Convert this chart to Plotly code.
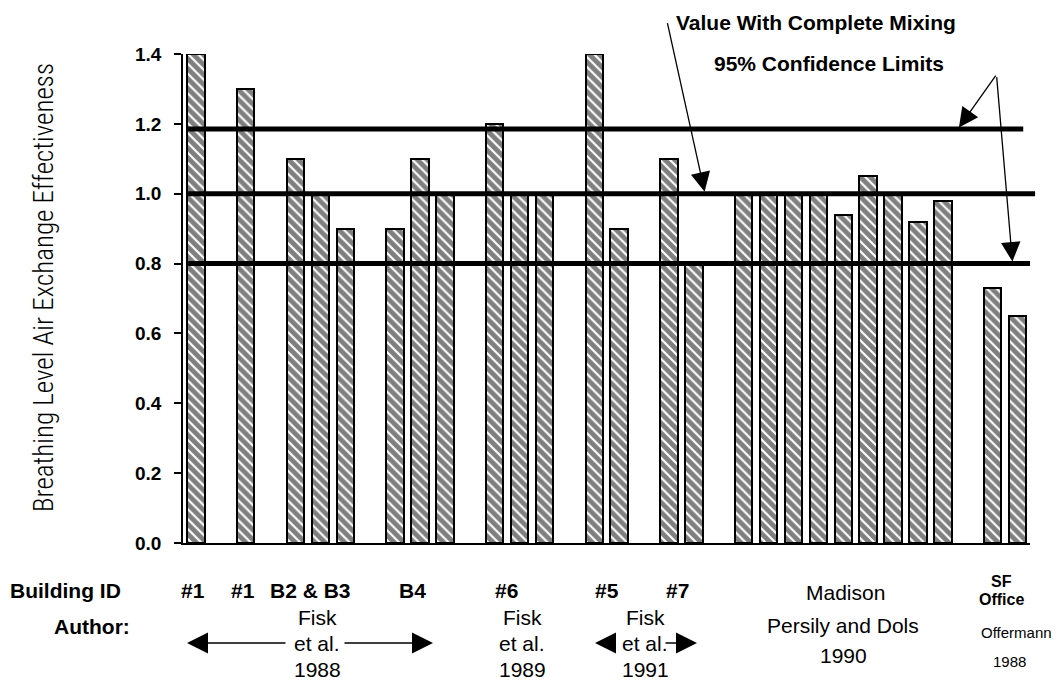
import plotly.graph_objects as go

# ---- data -------------------------------------------------------------
building_ids = ["#1", "#1", "B2 & B3", "B4", "#6", "#5", "#7", "Madison", "SF<br>Office"]
group_values = [
    [1.40],
    [1.30],
    [1.10, 1.00, 0.90],
    [0.90, 1.10, 1.00],
    [1.20, 1.00, 1.00],
    [1.40, 0.90],
    [1.10, 0.80],
    [1.00, 1.00, 1.00, 1.00, 0.94, 1.05, 1.00, 0.92, 0.98],
    [0.73, 0.65],
]
authors = [
    ["Fisk", "et al.", "1988"],
    ["Fisk", "et al.", "1989"],
    ["Fisk", "et al.", "1991"],
    ["Persily and Dols", "1990"],
    ["Offermann", "1988"],
]
complete_mixing = 1.0
confidence_limits = [0.80, 1.185]
y_ticks = [0.0, 0.2, 0.4, 0.6, 0.8, 1.0, 1.2, 1.4]
y_title = "Breathing Level Air Exchange Effectiveness"

# ---- bar slots: groups separated by one empty slot --------------------
bar_x, bar_y = [], []
slot = 0
for vals in group_values:
    for v in vals:
        bar_x.append(slot)
        bar_y.append(v)
        slot += 1
    slot += 1

# ---- figure geometry (pixels) ----------------------------------------
W, H = 1064, 689
L, R, T, B = 183, 1030, 54, 543


def px(xp):
    return (xp - L) / (R - L)


def py(yp):
    return (B - yp) / (B - T)


SANS = "Liberation Sans, Arial, Helvetica, sans-serif"

fig = go.Figure()
fig.add_trace(go.Bar(
    x=bar_x, y=bar_y, width=0.7,
    marker=dict(
        color="white",
        line=dict(color="black", width=2),
        pattern=dict(shape="\\", size=7, solidity=0.7, fgcolor="black",
                     fillmode="overlay"),
    ),
    hoverinfo="y", showlegend=False,
))

# reference lines: complete mixing and 95% confidence limits
ref_lines = [(confidence_limits[1], 0.006, 0.992),
             (complete_mixing, 0.006, 1.006),
             (confidence_limits[0], 0.006, 1.0)]
for yv, x0, x1 in ref_lines:
    fig.add_shape(type="line", xref="paper", yref="y", x0=x0, x1=x1,
                  y0=yv, y1=yv, line=dict(color="black", width=5), layer="above")

ann = []


def text(s, xp, yp, size, bold=False, xanchor="center"):
    ann.append(dict(
        text=s, xref="paper", yref="paper", x=px(xp), y=py(yp),
        xanchor=xanchor, yanchor="middle", showarrow=False,
        font=dict(family=SANS, size=size, color="black",
                  weight="bold" if bold else "normal"),
    ))


def arrow_px(tip_x, tip_y, tail_x, tail_y, width=1.5, size=2.8):
    ann.append(dict(
        text="", xref="paper", yref="paper", x=px(tip_x), y=py(tip_y),
        ax=tail_x - tip_x, ay=tail_y - tip_y, showarrow=True,
        arrowhead=2, arrowsize=size, arrowwidth=width, arrowcolor="black",
    ))


def arrow_to_value(tip_slot, value, tail_dx, tail_dy, width=1.3, size=3.0):
    ann.append(dict(
        text="", xref="x", yref="y", x=tip_slot, y=value,
        ax=tail_dx, ay=tail_dy, showarrow=True, standoff=2,
        arrowhead=2, arrowsize=size, arrowwidth=width, arrowcolor="black",
    ))


# callouts at the top
text("Value With Complete Mixing", 674, 22, 21, bold=True, xanchor="left")
text("95% Confidence Limits", 712, 63, 21, bold=True, xanchor="left")
arrow_to_value(20.45, complete_mixing, -38, -172)
arrow_to_value(30.6, confidence_limits[1], 39, -55)
arrow_to_value(32.8, confidence_limits[0], -16, -188)

# building id row
id_px = [193, 243, 310, 412, 506, 607, 677, 845, 1001]
text("Building ID", 65, 590, 21, bold=True)
for lab, xp in zip(building_ids, id_px):
    if "<br>" in lab:
        top, bottom = lab.split("<br>")
        text(top, xp, 581, 16, bold=True)
        text(bottom, xp, 599, 16, bold=True)
    elif lab == "Madison":
        text(lab, xp, 592, 21)
    else:
        text(lab, xp, 590, 21, bold=True)

# author rows (one x per text line)
text("Author:", 92, 626, 21, bold=True)
author_line_px = [[317, 317, 317], [522, 522, 522], [645, 645, 645],
                  [843, 843], [1016, 1009]]
author_rows = [[617, 643, 669], [617, 643, 669], [617, 643, 669],
               [625, 655], [632, 661]]
author_size = [21, 21, 21, 21, 15]
for lines, xs, rows, sz in zip(authors, author_line_px, author_rows, author_size):
    for s, xp, yp in zip(lines, xs, rows):
        text(s, xp, yp, sz)

# span arrows under the author names
arrow_px(187, 643, 287, 643)
arrow_px(433, 643, 343, 643)
arrow_px(595, 643, 617, 643)
arrow_px(697, 643, 664, 643)

# y-axis title
ann.append(dict(
    text=y_title, xref="paper", yref="paper", x=px(44), y=py(288),
    xanchor="center", yanchor="middle", showarrow=False, textangle=-90,
    font=dict(family="Roboto Condensed, Liberation Sans Narrow, DejaVu Sans Condensed, Roboto",
              size=27, color="black", weight=300),
))

fig.update_layout(
    width=W, height=H,
    margin=dict(l=L, r=W - R, t=T, b=H - B, pad=0),
    paper_bgcolor="white", plot_bgcolor="white",
    annotations=ann,
    bargap=0,
    xaxis=dict(range=[-0.52, 33.5], showticklabels=False, ticks="",
               showgrid=False, zeroline=False, showline=True,
               linecolor="black", linewidth=1.5),
    yaxis=dict(range=[0, 1.4], tickvals=y_ticks,
               ticktext=[f"{v:.1f}" for v in y_ticks],
               ticks="outside", ticklen=7, tickwidth=1.5, tickcolor="black",
               showgrid=False, zeroline=False, showline=True,
               linecolor="black", linewidth=1.5, ticklabelstandoff=9,
               tickfont=dict(family=SANS, size=19, color="black", weight="bold")),
)

fig.write_html("out.html")
